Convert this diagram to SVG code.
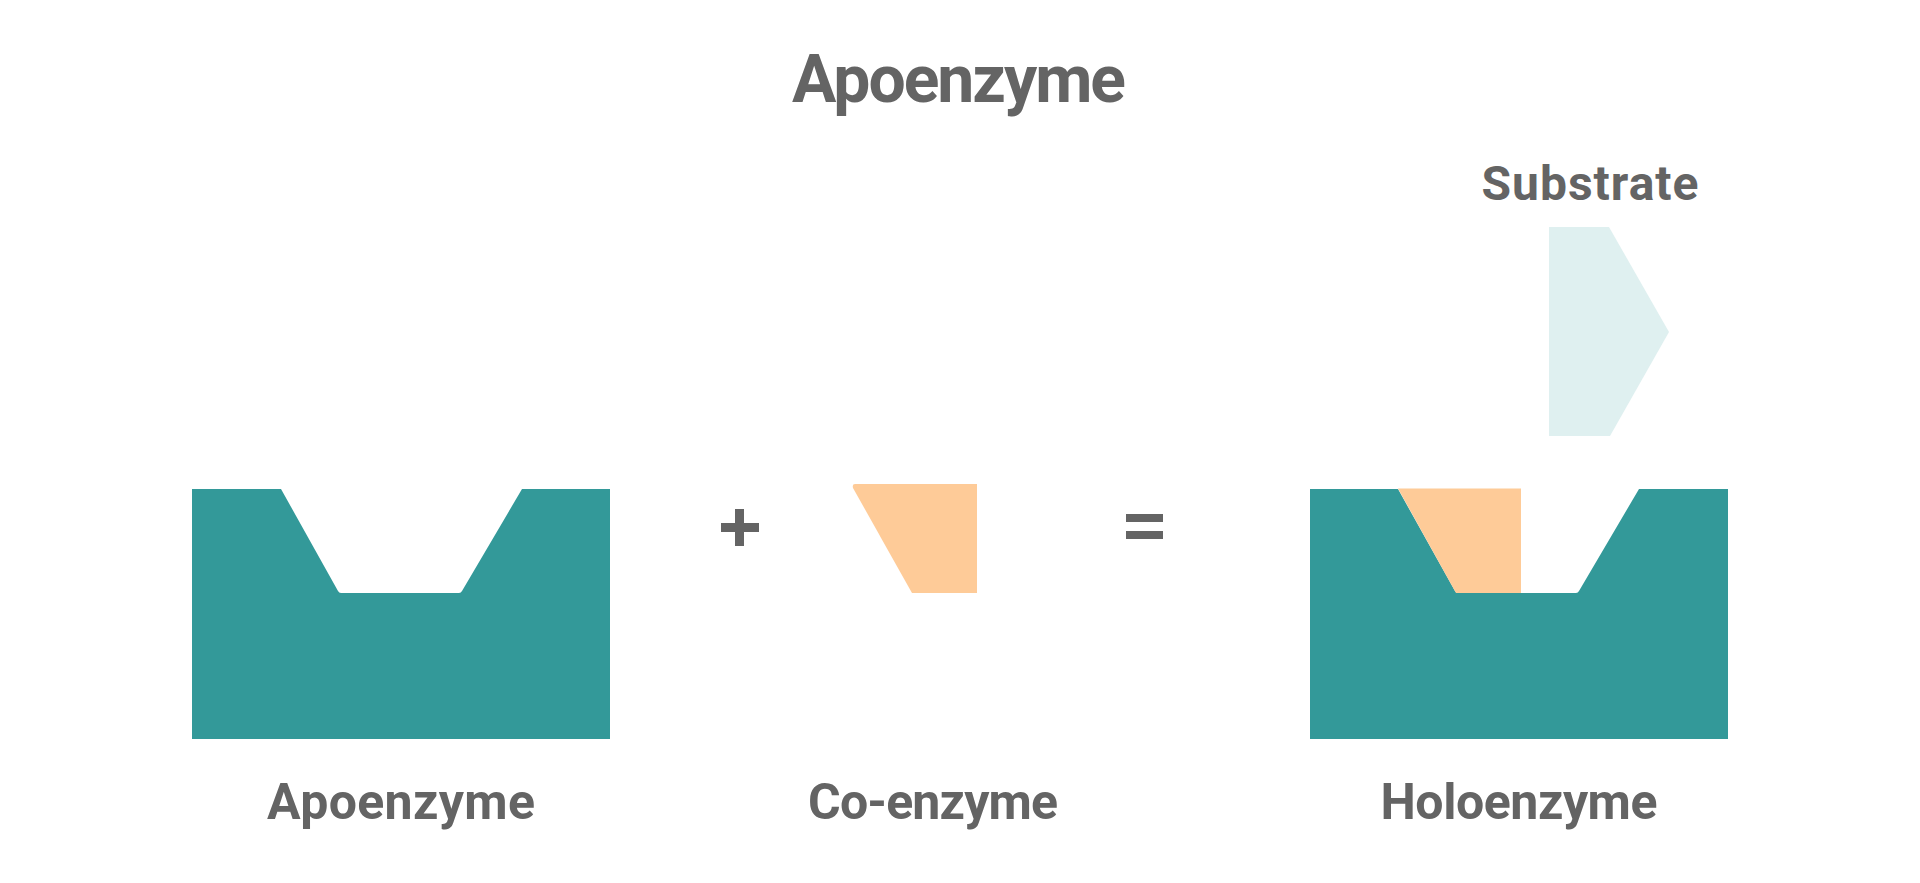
<svg xmlns="http://www.w3.org/2000/svg" width="1920" height="883" viewBox="0 0 1920 883">
<style>
.lbl{font-family:Roboto,"Liberation Sans",sans-serif;font-weight:700;fill:#646464;text-anchor:middle}
.teal{fill:#339999}
.co{fill:#FECB98}
.sub{fill:#DFF0F0}
.op{fill:#646464}
</style>
<rect width="1920" height="883" fill="#ffffff"/>
<g id="title"><text class="lbl" x="959" y="102" font-size="66" textLength="334">Apoenzyme</text></g>
<g id="apoenzyme">
<path class="teal" d="M192,489 L281,489 L338,591 Q339,593 341,593 L459,593 Q461,593 462,591 L522,489 L610,489 L610,739 L192,739 Z"/>
<text class="lbl" x="401" y="819" font-size="50" textLength="268">Apoenzyme</text>
</g>
<g id="plus">
<rect class="op" x="721" y="523" width="38" height="9"/>
<rect class="op" x="735" y="509" width="9" height="37"/>
</g>
<g id="coenzyme">
<path class="co" d="M855,484 L977,484 L977,593 L912,593 L853,488 Q852,484 855,484 Z"/>
<text class="lbl" x="933" y="819" font-size="50" textLength="250">Co-enzyme</text>
</g>
<g id="equals">
<rect class="op" x="1126" y="514" width="37" height="8"/>
<rect class="op" x="1126" y="531" width="37" height="8"/>
</g>
<g id="holoenzyme">
<path class="teal" d="M1310,489 L1398,489 L1455,591 Q1456,593 1458,593 L1576,593 Q1578,593 1579,591 L1639,489 L1728,489 L1728,739 L1310,739 Z"/>
<path class="co" d="M1398,488.5 L1521,488.5 L1521,593 L1456,593 Z"/>
<text class="lbl" x="1519" y="819" font-size="50" textLength="277">Holoenzyme</text>
</g>
<g id="substrate">
<path class="sub" d="M1549,227 L1609,227 L1669,332 L1610,436 L1549,436 Z"/>
<text class="lbl" x="1590" y="200" font-size="48" textLength="217">Substrate</text>
</g>
<g id="connectors"></g>
</svg>
